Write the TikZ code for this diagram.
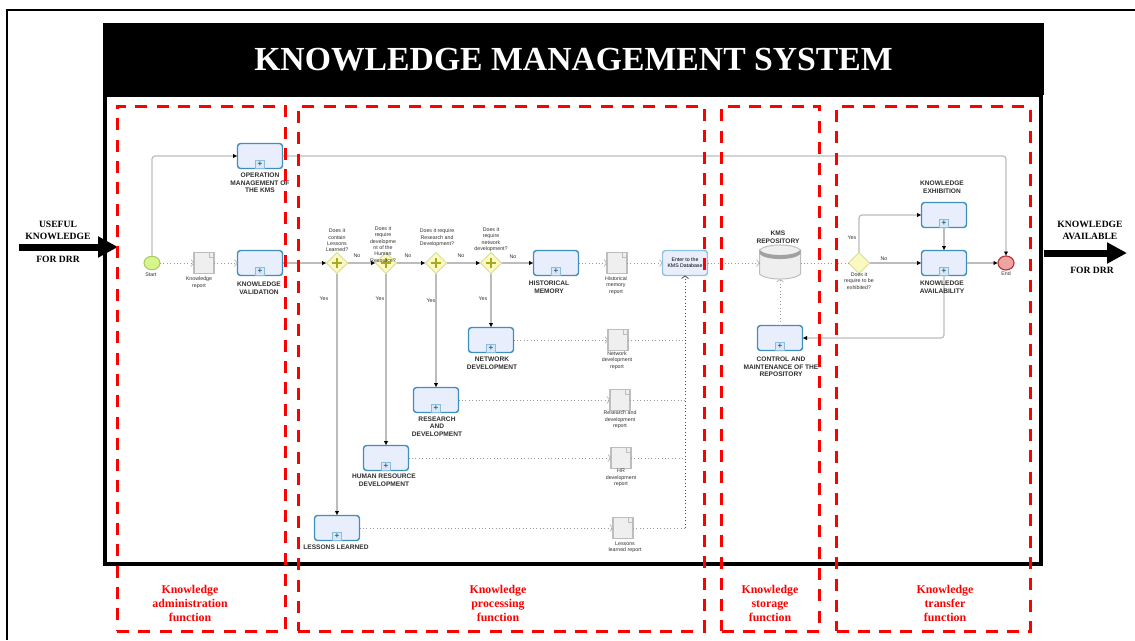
\documentclass[tikz,border=0pt]{standalone}
\usepackage{fontspec}
\setmainfont{Liberation Serif}
\setsansfont{Liberation Sans}
\usetikzlibrary{arrows.meta,shapes.geometric,shapes.misc}
\definecolor{taskblue}{HTML}{3F8FBC}
\definecolor{taskfill}{HTML}{E9EEFC}
\definecolor{enterblue}{HTML}{8FC1E0}
\definecolor{markfill}{HTML}{D8E8F6}
\definecolor{gatefill}{HTML}{FBF9C2}
\definecolor{gateline}{HTML}{DCDC96}
\definecolor{gateplus}{HTML}{A9A91E}
\definecolor{startfill}{HTML}{D6F58A}
\definecolor{startline}{HTML}{A8C860}
\definecolor{endfill}{HTML}{EFA3A3}
\definecolor{endline}{HTML}{B23A3A}
\definecolor{docfill}{HTML}{EFEFEF}
\definecolor{docline}{HTML}{BDBDBD}
\definecolor{flowgray}{HTML}{BCBCBC}
\definecolor{msggray}{HTML}{9A9A9A}
\definecolor{txtgray}{HTML}{2F2F2F}
\begin{document}
\begin{tikzpicture}[
    x=1pt, y=-1pt,
    every node/.style={outer sep=0pt},
    header/.style={fill=black, text=white, text depth=0pt, minimum width=941pt, minimum height=72pt, font=\bfseries\fontsize{33.7}{36}\selectfont},
    kmsbox/.style={draw=black, line width=4pt, anchor=north west, minimum height=469pt, minimum width=935.5pt},
    funcbox/.style={draw=red, line width=3pt, dash pattern=on 12pt off 9.3pt, anchor=north west, minimum height=525pt},
    functxt/.style={text=red, align=center, inner sep=0pt, font=\bfseries\fontsize{11.9}{14.4}\selectfont},
    iotxt/.style={align=center, inner sep=0pt, font=\bfseries\fontsize{9.6}{12.2}\selectfont},
    iotail/.style={line width=7pt, -{Triangle[length=20pt,width=20pt]}},
    task/.style={draw=taskblue, fill=taskfill, line width=1.4pt, rounded corners=3pt, minimum width=45pt, minimum height=25pt, inner sep=0pt},
    taskmark/.style={draw=taskblue!60, fill=markfill, line width=.6pt, minimum size=8.5pt, inner sep=0pt, anchor=south, text=taskblue!70!black, font=\sffamily\bfseries\fontsize{8}{8}\selectfont},
    tasktxt/.style={text=txtgray, align=center, inner sep=0pt, font=\sffamily\bfseries\fontsize{6.6}{7.7}\selectfont},
    smalltxt/.style={text=txtgray, align=center, inner sep=0pt, font=\sffamily\fontsize{5.3}{6.4}\selectfont},
    gate/.style={diamond, aspect=1, draw=gateline, fill=gatefill, line width=1pt, minimum size=21pt, inner sep=0pt},
    gateadd/.style={gate, path picture={\draw[gateplus, line width=2.8pt] (path picture bounding box.center) +(-5,0) -- +(5,0) +(0,-5) -- +(0,5);}},
    doc/.style={chamfered rectangle, chamfered rectangle corners=north east, chamfered rectangle sep=4.5pt, draw=docline, fill=docfill, line width=1.1pt, minimum width=20pt, minimum height=21pt, inner sep=0pt},
    flow/.style={draw=flowgray, line width=1.2pt, rounded corners=3pt, -{Latex[black,length=4.5pt,width=4.5pt]}},
    msg/.style={draw=msggray, line width=.8pt, dash pattern=on 1pt off 2.4pt, -{Straight Barb[flowgray,length=2.5pt,width=7pt]}},
    msgend/.style={draw=msggray, line width=.8pt, dash pattern=on 1pt off 2.4pt}
]
    \useasboundingbox (0,0) rectangle (1135,640);

    % Outer page lines
    \coordinate (pagebottom) at (7,640);
    \coordinate (pagecorner) at (7,10);
    \coordinate (pageright) at (1135,10);
    \draw[line width=2pt] (pagebottom) -- (pagecorner) -- (pageright);

    % Frame and title
    \node[kmsbox] (kmsframe) at (105,95) {};
    \node[header] (title) at (573.5,59) {KNOWLEDGE MANAGEMENT SYSTEM};

    % Input and output
    \coordinate (intail) at (19,247);
    \coordinate (inhead) at (118,247);
    \draw[iotail] (intail) -- (inhead);
    \node[iotxt] (intxt) at (58,230.5) {USEFUL\\KNOWLEDGE};
    \node[iotxt] (infor) at (58,259) {FOR DRR};
    \coordinate (outtail) at (1044,253);
    \coordinate (outhead) at (1127,253);
    \draw[iotail] (outtail) -- (outhead);
    \node[iotxt] (outtxt) at (1090,230) {KNOWLEDGE\\AVAILABLE};
    \node[iotxt] (outfor) at (1092,270) {FOR DRR};

    % Tasks
    \node[task] (opmgmt) at (260,156) {};
    \node[task] (validation) at (260,263) {};
    \node[task] (histmem) at (556,263) {};
    \node[task] (network) at (491,340) {};
    \node[task] (research) at (436,400) {};
    \node[task] (human) at (386,458) {};
    \node[task] (lessons) at (337,528) {};
    \node[task] (control) at (780,338) {};
    \node[task] (exhibition) at (944,215) {};
    \node[task] (availability) at (944,263) {};
    \node[task, draw=enterblue, align=center, font=\sffamily\fontsize{5.2}{6.2}\selectfont] (enter) at (685,263) {Enter to the\\KMS Database};

    % Events
    \node[ellipse, draw=startline, fill=startfill, line width=1pt, minimum width=16pt, minimum height=13.5pt, inner sep=0pt] (start) at (152,263) {};
    \node[ellipse, draw=endline, fill=endfill, line width=1.2pt, minimum width=16pt, minimum height=14pt, inner sep=0pt] (end) at (1006,263) {};

    % Gateways
    \node[gateadd] (gatelessons) at (337,263) {};
    \node[gateadd] (gatehuman) at (386,263) {};
    \node[gateadd] (gateresearch) at (436,263) {};
    \node[gateadd] (gatenetwork) at (491,263) {};
    \node[gate] (gateexhibit) at (859,263) {};

    % Reports
    \node[doc] (docknow) at (204,263) {};
    \node[doc] (dochist) at (617,263) {};
    \node[doc] (docnet) at (618,340) {};
    \node[doc] (docres) at (620,400) {};
    \node[doc] (dochr) at (621,458) {};
    \node[doc] (docles) at (623,528) {};

    % Repository
    \node[minimum width=41pt, minimum height=34pt, inner sep=0pt] (repo) at (780,262) {};
    \draw[docline, fill=docfill, line width=1pt] (759.5,250) -- (759.5,274) .. controls (766,280.7) and (794,280.7) .. (800.5,274) -- (800.5,250) .. controls (794,243.3) and (766,243.3) .. (759.5,250) -- cycle;
    \fill[docline!85!black] (759.5,250) .. controls (766,256.7) and (794,256.7) .. (800.5,250) -- (800.5,254) .. controls (794,260.7) and (766,260.7) .. (759.5,254) -- cycle;

    % Task markers
    \foreach \t in {opmgmt,validation,histmem,network,research,human,lessons,control,exhibition,availability}
        \node[taskmark] (\t mark) at (\t.south) {+};

    % Report folds
    \foreach \d in {docknow,dochist,docnet,docres,dochr,docles}
        \draw[docline, line width=.7pt] ([xshift=-4.5pt]\d.north east) -- ++(0,4.5) -- ++(4.5,0);

    % Sequence flows
    \draw[flow] (start.north) |- (opmgmt.west);
    \draw[flow] (opmgmt.east) -| (end.north);
    \draw[flow] (validation.east) -- (gatelessons.west);
    \draw[flow] (gatelessons.east) -- (gatehuman.west);
    \draw[flow] (gatehuman.east) -- (gateresearch.west);
    \draw[flow] (gateresearch.east) -- (gatenetwork.west);
    \draw[flow] (gatenetwork.east) -- (histmem.west);
    \draw[flow] (gatelessons.south) -- (lessons.north);
    \draw[flow] (gatehuman.south) -- (human.north);
    \draw[flow] (gateresearch.south) -- (research.north);
    \draw[flow] (gatenetwork.south) -- (network.north);
    \draw[flow] (gateexhibit.east) -- (availability.west);
    \draw[flow] (gateexhibit.north) |- (exhibition.west);
    \draw[flow] (exhibitionmark.south) -- (availability.north);
    \draw[flow] (availability.east) -- (end.west);
    \draw[flow] (availability.south) |- (control.east);

    % Message flows
    \draw[msg] (start.east) -- (docknow.west);
    \draw[msg] (docknow.east) -- (validation.west);
    \draw[msg] (histmem.east) -- (dochist.west);
    \draw[msg] (dochist.east) -- (enter.west);
    \draw[msg] (enter.east) -- (repo.west |- enter);
    \draw[msgend] (repo.east |- enter) -- (gateexhibit.west);
    \draw[msg] (control.north) -- (repo.south);
    \draw[msg] (network.east) -- (docnet.west);
    \draw[msg] (research.east) -- (docres.west);
    \draw[msg] (human.east) -- (dochr.west);
    \draw[msg] (lessons.east) -- (docles.west);
    \draw[msgend] (docnet.east) -- (docnet -| enter.south);
    \draw[msgend] (docres.east) -- (docres -| enter.south);
    \draw[msgend] (dochr.east) -- (dochr -| enter.south);
    \draw[msgend] (docles.east) -- (docles -| enter.south);
    \draw[msg, draw=black!70, -{Straight Barb[black!70,length=2.5pt,width=7pt]}] (docles -| enter.south) -- (enter.south);

    % Task labels
    \node[tasktxt] (opmgmttxt) at (260,183) {OPERATION\\MANAGEMENT OF\\THE KMS};
    \node[tasktxt] (validationtxt) at (259,288) {KNOWLEDGE\\VALIDATION};
    \node[tasktxt] (histmemtxt) at (549,287.5) {HISTORICAL\\MEMORY};
    \node[tasktxt] (networktxt) at (492,363) {NETWORK\\DEVELOPMENT};
    \node[tasktxt] (researchtxt) at (437,426.5) {RESEARCH\\AND\\DEVELOPMENT};
    \node[tasktxt] (humantxt) at (384,480.5) {HUMAN RESOURCE\\DEVELOPMENT};
    \node[tasktxt] (lessonstxt) at (336,547) {LESSONS LEARNED};
    \node[tasktxt] (controltxt) at (781,367) {CONTROL AND\\MAINTENANCE OF THE\\REPOSITORY};
    \node[tasktxt] (exhibitiontxt) at (942,187) {KNOWLEDGE\\EXHIBITION};
    \node[tasktxt] (availabilitytxt) at (942,287.5) {KNOWLEDGE\\AVAILABILITY};
    \node[tasktxt] (repotxt) at (778,237.5) {KMS\\REPOSITORY};

    % Small labels
    \node[smalltxt] (starttxt) at (151,275) {Start};
    \node[smalltxt] (endtxt) at (1006,274) {End};
    \node[smalltxt] (docknowtxt) at (199,282.5) {Knowledge\\report};
    \node[smalltxt] (dochisttxt) at (616,285.5) {Historical\\memory\\report};
    \node[smalltxt] (docnettxt) at (617,360.5) {Network\\development\\report};
    \node[smalltxt] (docrestxt) at (620,420) {Research and\\development\\report};
    \node[smalltxt] (dochrtxt) at (621,478) {HR\\development\\report};
    \node[smalltxt] (doclestxt) at (625,547) {Lessons\\learned report};
    \node[smalltxt] (qlessons) at (337,240.5) {Does it\\contain\\Lessons\\Learned?};
    \node[smalltxt] (qhuman) at (383,244.5) {Does it\\require\\developme\\nt of the\\Human\\Resource?};
    \node[smalltxt] (qresearch) at (437,238) {Does it require\\Research and\\Development?};
    \node[smalltxt] (qnetwork) at (491,239.5) {Does it\\require\\network\\development?};
    \node[smalltxt] (qexhibit) at (859,281) {Does it\\require to be\\exhibited?};

    % Yes and no
    \node[smalltxt] (nolessons) at (357,256) {No};
    \node[smalltxt] (nohuman) at (408,256) {No};
    \node[smalltxt] (noresearch) at (461,256) {No};
    \node[smalltxt] (nonetwork) at (513,257) {No};
    \node[smalltxt] (noexhibit) at (884,259) {No};
    \node[smalltxt] (yeslessons) at (324,299) {Yes};
    \node[smalltxt] (yeshuman) at (380,299) {Yes};
    \node[smalltxt] (yesresearch) at (431,301) {Yes};
    \node[smalltxt] (yesnetwork) at (483,299) {Yes};
    \node[smalltxt] (yesexhibit) at (852,238) {Yes};

    % Function boxes
    \node[funcbox, minimum width=168pt] (adminbox) at (117,106) {};
    \node[funcbox, minimum width=406pt] (processbox) at (298,106) {};
    \node[funcbox, minimum width=98pt] (storagebox) at (721.5,106) {};
    \node[funcbox, minimum width=193.5pt] (transferbox) at (836.5,106) {};

    % Function labels
    \node[functxt] (admintxt) at (190,603.5) {Knowledge\\administration\\function};
    \node[functxt] (processtxt) at (498,603.5) {Knowledge\\processing\\function};
    \node[functxt] (storagetxt) at (770,603.5) {Knowledge\\storage\\function};
    \node[functxt] (transfertxt) at (945,603.5) {Knowledge\\transfer\\function};
\end{tikzpicture}
\end{document}
